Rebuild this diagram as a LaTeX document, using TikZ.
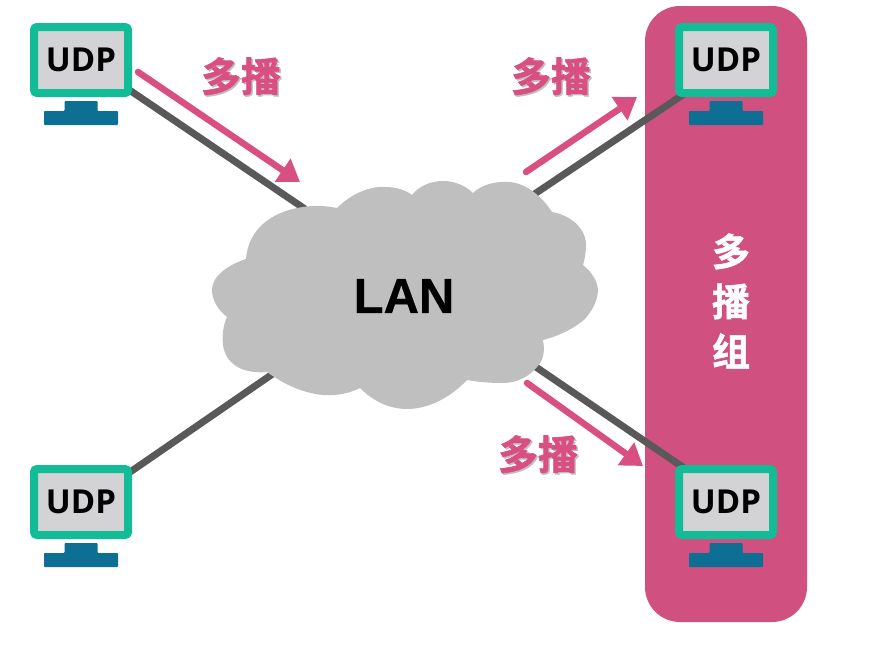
\documentclass[tikz,border=0pt]{standalone}
\usepackage{fontspec}
\setmainfont{Noto Sans}
\newfontfamily\cjkbold[FakeBold=1.4]{Noto Sans CJK SC Bold}
\newfontfamily\lanfont[FakeBold=0.6]{Liberation Sans Bold}
\newfontfamily\udpfont{Open Sans}
\usetikzlibrary{arrows.meta,backgrounds,calc}
\definecolor{groupPink}{HTML}{D05080}
\definecolor{arrowPink}{HTML}{D94F82}
\definecolor{frameTeal}{HTML}{12BC97}
\definecolor{standBlue}{HTML}{0E6F95}
\definecolor{wireGray}{HTML}{595959}
\definecolor{cloudGray}{HTML}{BFBFBF}
\definecolor{screenGray}{HTML}{D3D3D6}
\tikzset{
  monitor/.style={draw=frameTeal,line width=8pt,fill=screenGray,rounded corners=3pt,
    minimum width=94pt,minimum height=66pt,inner sep=0pt,
    font=\fontsize{33}{33}\selectfont\udpfont\bfseries,text=black},
  wire/.style={draw=wireGray,line width=7pt},
  cast/.style={draw=arrowPink,line width=6.5pt,line cap=round,
    -{Triangle[length=21pt,width=27pt]}},
  castlabel/.style={inner sep=0pt,text=arrowPink,
    font=\fontsize{40}{40}\selectfont\cjkbold},
}
% Pink label with a soft grey drop shadow inside one node
\newcommand{\castword}{\rlap{\hspace{1.5pt}\raisebox{-1.5pt}{\textcolor{black!25}{多播}}}多播}
% Computer: a framed screen as a node, with its stand drawn below
\newcommand{\computer}[3]{%
  \node[monitor] (#1) at (#2,#3) {UDP};
  \fill[standBlue,rounded corners=0.8pt]
    (#2-16.5,#3+41) -- (#2+16.5,#3+41) -- (#2+16.5,#3+51) -- (#2+37,#3+51)
    -- (#2+37,#3+65) -- (#2-37,#3+65) -- (#2-37,#3+51) -- (#2-16.5,#3+51) -- cycle;
}
\begin{document}
\begin{tikzpicture}[x=1pt,y=-1pt]
\useasboundingbox (0,0) rectangle (871,645);

% Multicast group band
\begin{scope}[on background layer]
  \node[fill=groupPink,rounded corners=35pt,minimum width=162pt,minimum height=616pt,inner sep=0pt]
    (group) at (726,314) {};
\end{scope}
\node[text=white,font=\fontsize{38}{50}\selectfont\cjkbold,align=center,inner sep=0pt]
  (grouplabel) at (731,301) {多\\播\\组};

% Computers
\computer{udpA}{81}{60}
\computer{udpB}{726}{60}
\computer{udpC}{81}{502}
\computer{udpD}{726}{502}

% Network cloud
\fill[cloudGray]
  (337,208) .. controls (350,195) and (368,186) .. (385,187)
  .. controls (396,187) and (406,190) .. (412,195)
  .. controls (420,185) and (432,181) .. (443,181)
  .. controls (455,181) and (466,186) .. (473,193)
  .. controls (482,184) and (497,181) .. (510,182)
  .. controls (528,184) and (543,198) .. (552,212)
  .. controls (570,215) and (586,228) .. (586,245)
  .. controls (586,252) and (585,258) .. (583,265)
  .. controls (592,272) and (598,282) .. (598,291)
  .. controls (597,303) and (591,312) .. (585,319)
  .. controls (572,330) and (558,336) .. (543,340)
  .. controls (545,350) and (544,360) .. (537,367)
  .. controls (528,378) and (515,383) .. (503,383)
  .. controls (490,383) and (478,382) .. (467,380)
  .. controls (450,398) and (428,409) .. (407,409)
  .. controls (388,409) and (372,400) .. (360,388)
  .. controls (348,394) and (335,396) .. (323,395)
  .. controls (303,393) and (285,385) .. (267,372)
  .. controls (245,374) and (226,366) .. (223,345)
  .. controls (222,335) and (223,326) .. (227,317)
  .. controls (218,310) and (212,300) .. (212,290)
  .. controls (212,276) and (228,265) .. (246,259)
  .. controls (248,232) and (268,212) .. (303,207)
  .. controls (315,205) and (327,206) .. (337,208) -- cycle;
\node[inner sep=0pt,font=\fontsize{49}{49}\selectfont\lanfont] (lan) at (404,296) {LAN};

% Wire ends under the cloud edge, and the ends of the multicast arrows
\coordinate (cloudNW) at (305,209);
\coordinate (cloudNE) at (533,195);
\coordinate (cloudSE) at (533,365);
\coordinate (cloudSW) at (274,373);
\coordinate (sendStart) at (138,72);
\coordinate (sendEnd) at (300,182);
\coordinate (upStart) at (526,172);
\coordinate (upEnd) at (637,97);
\coordinate (downStart) at (527,383);
\coordinate (downEnd) at (643,466);

% Wires run behind the screens and the cloud
\begin{scope}[on background layer]
  \draw[wire] ($(udpA.south east)+(-10,-12)$) -- (cloudNW);
  \draw[wire] ($(udpB.south west)+(15,-7)$) -- (cloudNE);
  \draw[wire] ($(udpD.north west)+(15,7)$) -- (cloudSE);
  \draw[wire] ($(udpC.north east)+(-12,14)$) -- (cloudSW);
\end{scope}

% Multicast arrows
\draw[cast] (sendStart) -- (sendEnd);
\draw[cast] (upStart) -- (upEnd);
\draw[cast] (downStart) -- (downEnd);

\node[castlabel] (castA) at (241,77) {\castword};
\node[castlabel] (castB) at (551,77) {\castword};
\node[castlabel] (castC) at (538,455) {\castword};
\end{tikzpicture}
\end{document}
